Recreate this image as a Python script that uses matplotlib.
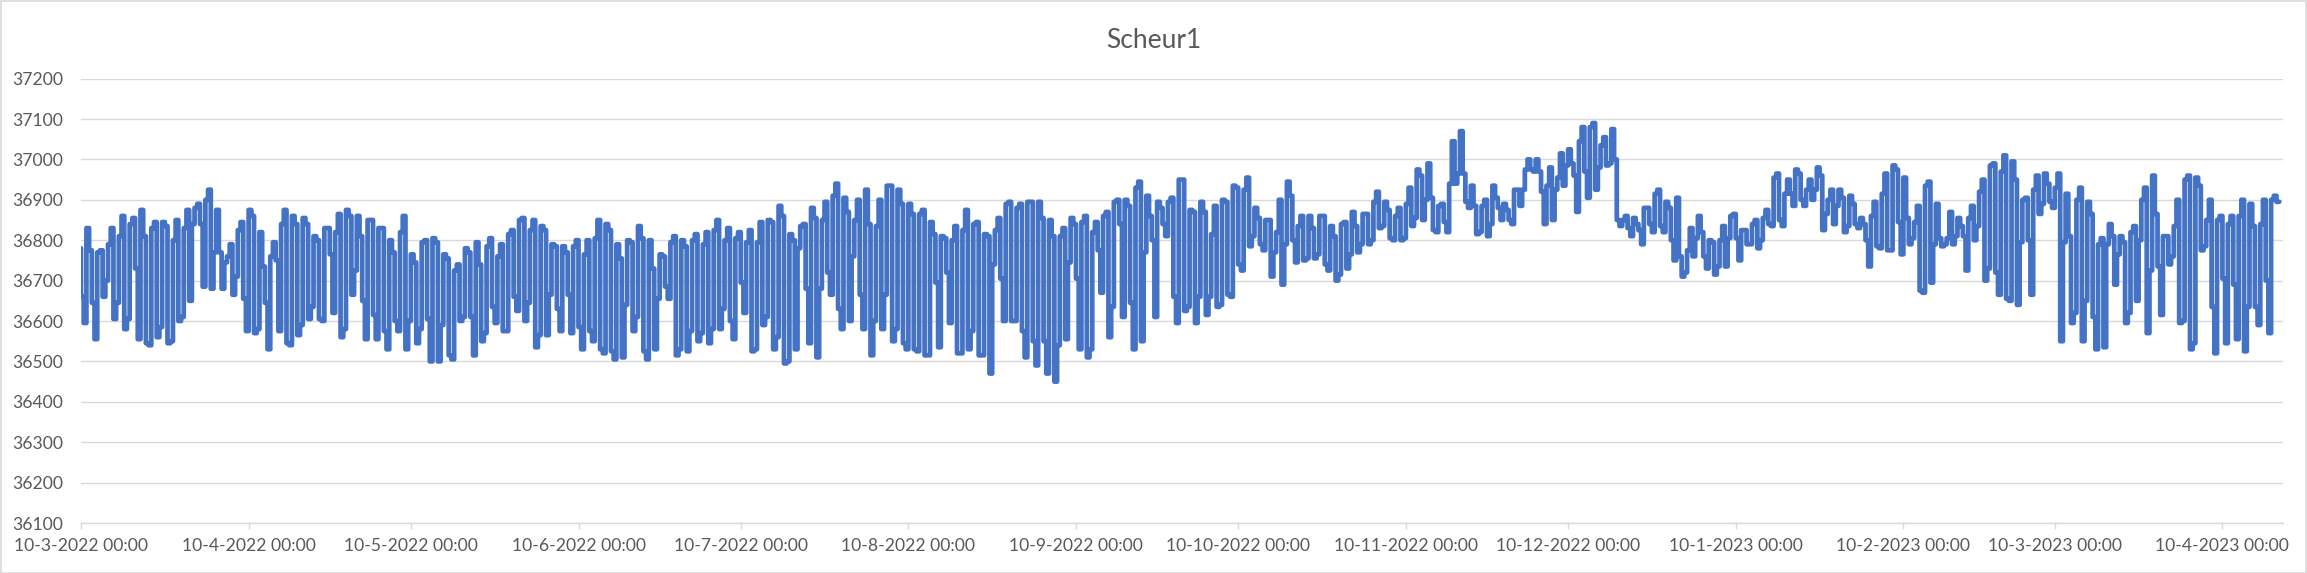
import pandas as pd
import matplotlib
matplotlib.use("Agg")
import matplotlib.pyplot as plt
from matplotlib.patches import Rectangle

# daily readings, upper and lower value of each day, from 10-3-2022
start = pd.Timestamp("2022-03-10")

tops = [
    # mar - may 2022
    36780, 36830, 36775, 36770, 36775, 36790, 36830, 36810, 36860, 36840,
    36855, 36875, 36810, 36830, 36845, 36845, 36835, 36800, 36850, 36830,
    36875, 36880, 36890, 36900, 36925, 36875, 36770, 36760, 36790, 36825,
    36845, 36875, 36860, 36820, 36735, 36760, 36795, 36840, 36875, 36860,
    36840, 36855, 36840, 36810, 36800, 36830, 36830, 36820, 36865, 36875,
    36860, 36860, 36810, 36850, 36850, 36830, 36830, 36800,
    # may - jul 2022
    36770, 36820, 36860, 36765, 36745, 36795, 36800, 36805, 36795, 36765,
    36755, 36725, 36740, 36780, 36770, 36795, 36740, 36785, 36805, 36760,
    36790, 36815, 36825, 36850, 36855, 36825, 36850, 36835, 36825, 36790,
    36785, 36785, 36770, 36785, 36800, 36765, 36800, 36805, 36850, 36840,
    36825, 36790, 36755, 36800, 36795, 36835, 36805, 36800, 36730, 36765,
    36760, 36795, 36810, 36800, 36785, 36800, 36815, 36790,
    # jul - aug 2022
    36820, 36825, 36850, 36800, 36830, 36805, 36820, 36795, 36825, 36795,
    36845, 36850, 36845, 36885, 36860, 36815, 36800, 36835, 36840, 36880,
    36855, 36850, 36895, 36910, 36940, 36905, 36870, 36850, 36900, 36925,
    36840, 36835, 36900, 36935, 36935, 36925, 36890, 36890, 36865, 36865,
    36875, 36845, 36815, 36810, 36805, 36800, 36835, 36825, 36875, 36840,
    36845, 36815, 36810, 36825, 36855, 36890, 36895, 36880, 36890,
    # sep - oct 2022
    36895, 36895, 36895, 36855, 36850, 36810, 36810, 36830, 36855, 36840,
    36845, 36860, 36820, 36845, 36860, 36870, 36895, 36900, 36900, 36885,
    36930, 36945, 36910, 36860, 36895, 36880, 36895, 36905, 36950, 36950,
    36875, 36870, 36895, 36870, 36815, 36885, 36900, 36895, 36935, 36930,
    36925, 36955, 36880, 36855, 36850, 36850, 36820, 36900, 36945, 36910,
    36835, 36860, 36860, 36830, 36860, 36860, 36835, 36810,
    # oct - dec 2022
    36840, 36845, 36870, 36835, 36865, 36865, 36895, 36920, 36895, 36875,
    36860, 36880, 36890, 36930, 36975, 36960, 36990, 36905, 36885, 36890,
    36940, 37045, 37070, 36965, 36935, 36885, 36885, 36900, 36935, 36905,
    36890, 36875, 36925, 36925, 36975, 37000, 37000, 36970, 36935, 36980,
    36955, 37015, 37025, 36990, 37045, 37080, 37080, 37090, 37035, 37055,
    37075, 37000, 36850, 36860, 36855, 36840, 36880, 36880,
    # dec 2022 - feb 2023
    36915, 36925, 36895, 36880, 36905, 36760, 36775, 36830, 36860, 36820,
    36800, 36795, 36800, 36835, 36860, 36865, 36825, 36825, 36840, 36850,
    36855, 36875, 36955, 36965, 36915, 36950, 36975, 36965, 36925, 36950,
    36980, 36960, 36900, 36925, 36925, 36905, 36910, 36890, 36855, 36840,
    36860, 36895, 36915, 36965, 36985, 36975, 36955, 36855, 36845, 36885,
    36935, 36945, 36890, 36805, 36805, 36870, 36855, 36835, 36855,
    # feb - apr 2023
    36885, 36920, 36950, 36985, 36990, 36970, 37010, 36995, 36950, 36900,
    36905, 36925, 36960, 36965, 36940, 36930, 36965, 36915, 36810, 36900,
    36930, 36895, 36865, 36790, 36805, 36840, 36810, 36810, 36795, 36820,
    36835, 36900, 36930, 36960, 36865, 36810, 36810, 36835, 36900, 36950,
    36960, 36955, 36935, 36850, 36900, 36850, 36860, 36840, 36860, 36860,
    36900, 36890, 36835, 36840, 36900, 36900, 36910,
]

bottoms = [
    # mar - may 2022
    36660, 36595, 36645, 36555, 36660, 36700, 36605, 36645, 36580, 36605,
    36730, 36555, 36545, 36540, 36560, 36585, 36545, 36550, 36600, 36610,
    36650, 36840, 36840, 36685, 36680, 36770, 36680, 36745, 36665, 36710,
    36655, 36575, 36570, 36580, 36645, 36530, 36750, 36575, 36545, 36540,
    36565, 36590, 36605, 36635, 36605, 36600, 36765, 36620, 36560, 36580,
    36665, 36725, 36650, 36555, 36615, 36555, 36575, 36530,
    # may - jul 2022
    36600, 36575, 36530, 36600, 36545, 36580, 36605, 36500, 36500, 36590,
    36515, 36505, 36600, 36610, 36610, 36515, 36550, 36570, 36635, 36595,
    36575, 36575, 36660, 36625, 36600, 36645, 36535, 36565, 36565, 36665,
    36630, 36575, 36665, 36570, 36585, 36530, 36575, 36550, 36530, 36520,
    36525, 36505, 36510, 36640, 36575, 36610, 36525, 36505, 36530, 36655,
    36685, 36655, 36515, 36530, 36525, 36575, 36550, 36570,
    # jul - aug 2022
    36545, 36580, 36580, 36630, 36600, 36555, 36695, 36620, 36525, 36530,
    36590, 36610, 36530, 36560, 36495, 36500, 36530, 36780, 36680, 36545,
    36510, 36680, 36720, 36665, 36630, 36580, 36600, 36760, 36665, 36580,
    36515, 36600, 36580, 36665, 36550, 36580, 36545, 36530, 36530, 36525,
    36515, 36515, 36695, 36535, 36720, 36595, 36520, 36520, 36530, 36575,
    36515, 36515, 36470, 36740, 36705, 36600, 36600, 36600, 36575,
    # sep - oct 2022
    36510, 36550, 36490, 36550, 36470, 36450, 36540, 36555, 36745, 36705,
    36530, 36510, 36530, 36775, 36670, 36560, 36635, 36840, 36610, 36645,
    36530, 36550, 36770, 36800, 36610, 36840, 36810, 36660, 36595, 36625,
    36635, 36595, 36660, 36615, 36660, 36635, 36640, 36665, 36660, 36740,
    36725, 36785, 36810, 36790, 36775, 36710, 36770, 36690, 36790, 36800,
    36745, 36750, 36755, 36755, 36765, 36740, 36725, 36700,
    # oct - dec 2022
    36715, 36730, 36765, 36770, 36790, 36790, 36800, 36830, 36835, 36805,
    36800, 36800, 36805, 36835, 36855, 36850, 36900, 36825, 36820, 36845,
    36820, 36940, 36965, 36895, 36880, 36815, 36820, 36810, 36840, 36880,
    36850, 36850, 36840, 36885, 36925, 36975, 36970, 36920, 36840, 36850,
    36925, 36935, 36985, 36960, 36870, 36970, 36905, 36925, 36980, 36985,
    36990, 36850, 36835, 36830, 36810, 36825, 36790, 36840,
    # dec 2022 - feb 2023
    36820, 36835, 36820, 36800, 36750, 36710, 36720, 36760, 36805, 36760,
    36730, 36715, 36735, 36735, 36805, 36805, 36750, 36790, 36790, 36780,
    36800, 36840, 36835, 36850, 36835, 36915, 36885, 36900, 36885, 36900,
    36925, 36825, 36865, 36840, 36885, 36820, 36835, 36840, 36830, 36800,
    36735, 36785, 36780, 36775, 36775, 36845, 36765, 36790, 36805, 36675,
    36670, 36695, 36790, 36785, 36790, 36790, 36810, 36810, 36725,
    # feb - apr 2023
    36800, 36835, 36700, 36730, 36720, 36665, 36655, 36650, 36640, 36795,
    36800, 36665, 36865, 36890, 36895, 36880, 36550, 36795, 36595, 36620,
    36550, 36650, 36610, 36530, 36535, 36790, 36690, 36765, 36595, 36620,
    36650, 36800, 36570, 36725, 36735, 36615, 36740, 36760, 36595, 36600,
    36530, 36545, 36775, 36785, 36635, 36520, 36705, 36545, 36690, 36555,
    36525, 36635, 36635, 36590, 36700, 36570, 36895,
]

tick_dates = pd.date_range("2022-03-10", "2023-04-10", freq=pd.DateOffset(months=1))
tick_labels = [f"{d.day}-{d.month}-{d.year} 00:00" for d in tick_dates]
y_ticks = list(range(36100, 37201, 100))

# two readings per day, high and low swapping order, drawn as steps
times, values = [], []
for d, (hi, lo) in enumerate(zip(tops, bottoms)):
    pair = (hi, lo) if d % 2 == 0 else (lo, hi)
    times.append(start + pd.Timedelta(days=d - 0.5))
    values.append(pair[0])
    times.append(start + pd.Timedelta(days=d))
    values.append(pair[1])
times.append(start + pd.Timedelta(days=len(tops) - 0.5))
values.append(values[-1])

W, H = 2307, 573
fig = plt.figure(figsize=(W / 100, H / 100), dpi=100)
plt.rcParams['font.family'] = ['Lato', 'DejaVu Sans']
grey_txt = '#595959'
grey_line = '#D9D9D9'

ax = fig.add_axes([81 / W, (H - 523) / H, (2283 - 81) / W, (523 - 78.6) / H])
ax.plot(times, values, drawstyle='steps-post', color='#4472C4', lw=3.4,
        solid_joinstyle='round', solid_capstyle='round', zorder=3)

ax.set_ylim(36100, 37200)
ax.set_yticks(y_ticks)
ax.set_yticklabels([str(v) for v in y_ticks])
ax.set_xlim(start, start + pd.Timedelta(days=407.2))
ax.set_xticks(tick_dates)
ax.set_xticklabels(tick_labels)

ax.grid(axis='y', color=grey_line, lw=1.0, zorder=0)
for s in ['top', 'right', 'left']:
    ax.spines[s].set_visible(False)
ax.spines['bottom'].set_color(grey_line)
ax.spines['bottom'].set_linewidth(1.0)
ax.tick_params(axis='y', length=0, pad=13, labelsize=12.6, labelcolor=grey_txt)
ax.tick_params(axis='x', length=4.5, width=1.0, color=grey_line, pad=6,
               labelsize=12.6, labelcolor=grey_txt)

fig.text(0.5, 1 - 40 / H, "Scheur1", ha='center', va='center',
         fontsize=19, color=grey_txt)
fig.patches.append(Rectangle((0.5 / W, 0.5 / H), 1 - 1.5 / W, 1 - 1.5 / H,
                             transform=fig.transFigure, fill=False,
                             edgecolor=grey_line, lw=1.2))

fig.savefig("out.png", dpi=100)
